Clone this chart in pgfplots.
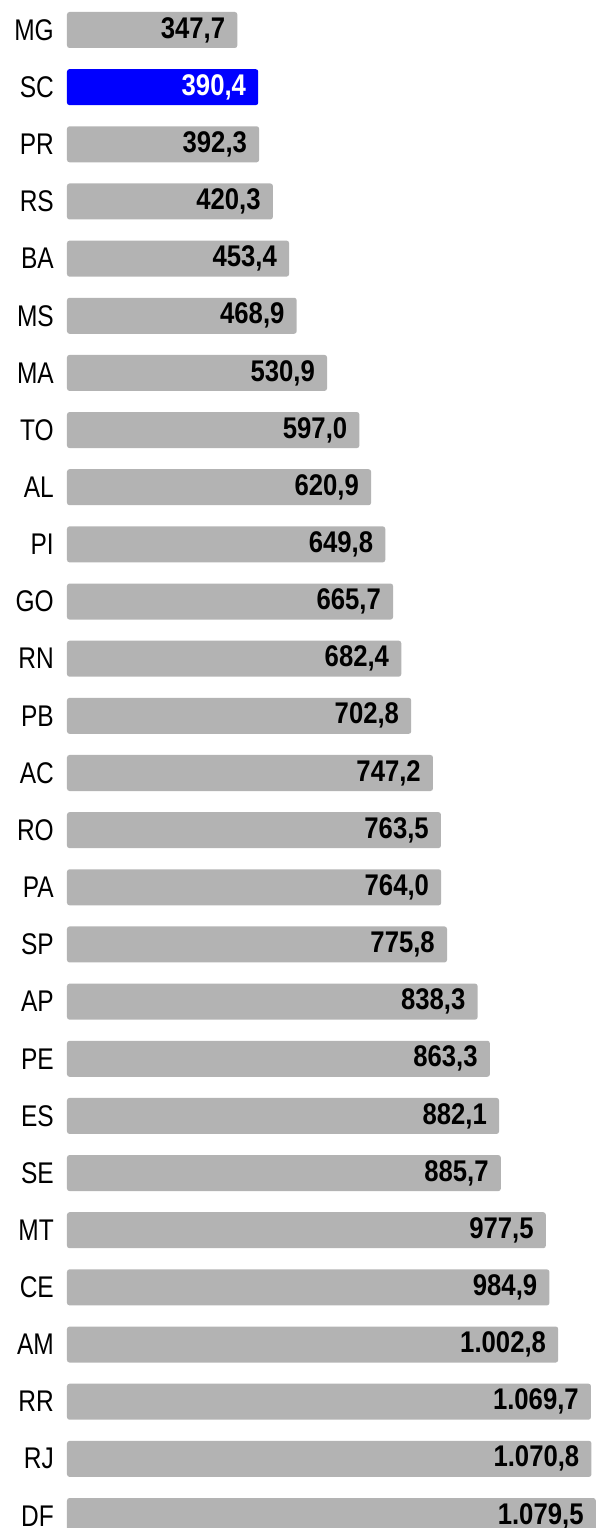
\documentclass[border=0pt]{standalone}
\usepackage{fontspec}
\usepackage{pgfplots}
\usepackage{pgfplotstable}
\pgfplotsset{compat=1.18}
\newfontfamily\catfamily{Liberation Sans}[FakeStretch=0.82]
\newfontfamily\valfamily{Liberation Sans}[FakeStretch=0.86]
\definecolor{bargray}{RGB}{179,179,179}
\definecolor{barblue}{RGB}{0,0,255}
\pgfplotstableread{
idx val
0 347.7
2 392.3
3 420.3
4 453.4
5 468.9
6 530.9
7 597.0
8 620.9
9 649.8
10 665.7
11 682.4
12 702.8
13 747.2
14 763.5
15 764.0
16 775.8
17 838.3
18 863.3
19 882.1
20 885.7
21 977.5
22 984.9
23 1002.8
24 1069.7
25 1070.8
26 1079.5
}\graydata
\pgfplotstableread{
idx val
1 390.4
}\bluedata
\begin{document}
\begin{tikzpicture}
\useasboundingbox (-67bp,0) rectangle (529bp,1528bp);
\begin{axis}[
  at={(0,0)}, anchor=south west,
  scale only axis,
  width=529bp, height=1528bp,
  xmin=0, xmax=1080,
  ymin=-0.525, ymax=26.21,
  y dir=reverse,
  xbar, bar width=0.63, bar shift=0pt,
  axis line style={draw=none},
  tick style={draw=none},
  major tick length=0pt,
  xtick=\empty,
  ytick={0,...,26},
  yticklabels={MG,SC,PR,RS,BA,MS,MA,TO,AL,PI,GO,RN,PB,AC,RO,PA,SP,AP,PE,ES,SE,MT,CE,AM,RR,RJ,DF},
  yticklabel style={font=\catfamily\fontsize{30}{36}\selectfont, anchor=east, inner sep=0pt, xshift=-13bp},
  nodes near coords,
  /pgf/number format/.cd, fixed, fixed zerofill, precision=1, use comma, 1000 sep={.}, assume math mode=true,
  /pgfplots/.cd,
  every node near coord/.append style={font=\valfamily\bfseries\fontsize{30}{36}\selectfont, anchor=east, inner sep=0pt, xshift=-12bp},
]
\addplot[fill=bargray, draw=none, rounded corners=2.5bp, nodes near coords style={text=black}] table[x=val, y=idx] {\graydata};
\addplot[fill=barblue, draw=none, rounded corners=2.5bp, nodes near coords style={text=white}] table[x=val, y=idx] {\bluedata};
\end{axis}
\end{tikzpicture}
\end{document}
